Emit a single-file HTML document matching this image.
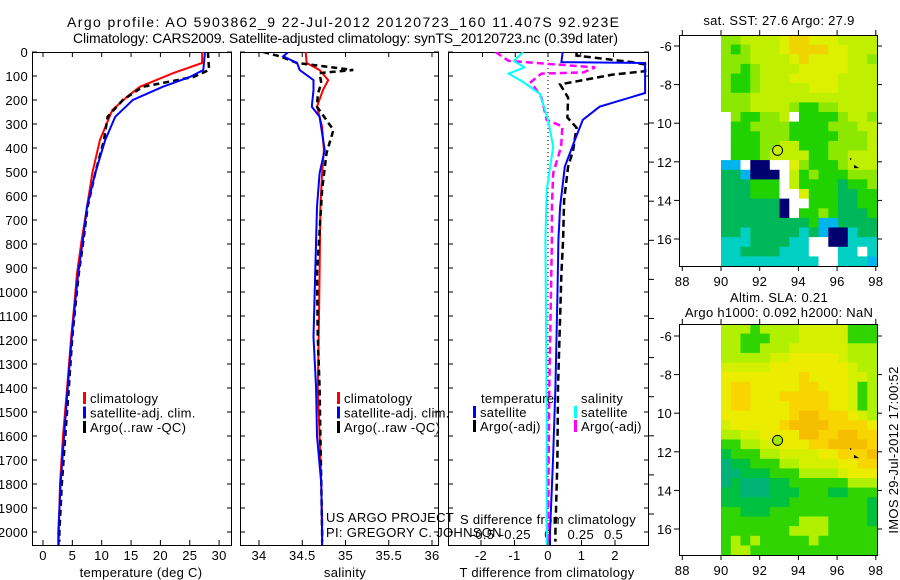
<!DOCTYPE html>
<html><head><meta charset="utf-8">
<style>
html,body{margin:0;padding:0;background:#fff;}
svg{display:block;font-family:"Liberation Sans",sans-serif;}
text{font-size:13px;letter-spacing:0.3px;fill:#000;}
</style></head>
<body>
<svg id="fig" width="900" height="580" viewBox="0 0 900 580" xmlns="http://www.w3.org/2000/svg">
<text x="67" y="27" textLength="552" lengthAdjust="spacing" style="font-size:14px;letter-spacing:0">Argo profile: AO 5903862_9 22-Jul-2012 20120723_160 11.407S 92.923E</text>
<text x="73" y="43" textLength="545" lengthAdjust="spacing" style="font-size:14px;letter-spacing:0">Climatology: CARS2009. Satellite-adjusted climatology: synTS_20120723.nc (0.39d later)</text>
<g id="g"></g>
</svg>
<script>
// ---------- data ----------
const depthTicks=[0,100,200,300,400,500,600,700,800,900,1000,1100,1200,1300,1400,1500,1600,1700,1800,1900,2000];
const tempTicks=[0,5,10,15,20,25,30];
const salTicks=[34,34.5,35,35.5,36];
const tdiffTicks=[-2,-1,0,1,2];
const sdiffTicks=[-0.5,-0.25,0,0.25,0.5];
const sdiffTickLabels=["-0.5","-0.25","0","0.25","0.5"];

const tClimDepth=[0,46,88,145,187,242,367,505,645,783,922,1062,1187,1400,1600,1800,2000,2054];
const tClimVal=[27.1,27.1,22.2,16.5,14.3,11.8,9.7,8.4,7.5,6.6,5.8,5.3,4.8,4.1,3.4,2.9,2.7,2.7];
const tSatDepth=[0,75,104,145,200,270,367,505,645,783,922,1062,1187,1400,1600,1800,2000,2054];
const tSatVal=[27.6,27.3,25,20.4,15.3,12.3,10.6,8.9,7.5,6.8,6.0,5.4,4.9,4.2,3.6,3.0,2.6,2.6];
const tArgoDepth=[0,75,104,145,200,270,367,505,645,783,922,1062,1187,1400,1600,1800,2000,2040];
const tArgoVal=[28.1,28.3,25.6,17,13.6,11,10.4,8.9,7.6,6.9,6.1,5.5,5.0,4.4,3.8,3.2,2.8,2.8];

const sClimDepth=[0,46,75,117,158,228,312,409,505,645,922,1187,1400,1600,1800,2000,2054];
const sClimVal=[34.54,34.55,34.70,34.80,34.74,34.67,34.73,34.75,34.73,34.71,34.70,34.69,34.68,34.70,34.72,34.73,34.73];
const sSatDepth=[0,18,46,75,117,158,228,270,409,505,645,922,1187,1400,1600,1800,2000,2054];
const sSatVal=[34.34,34.28,34.44,34.47,34.63,34.63,34.61,34.70,34.76,34.70,34.67,34.65,34.63,34.66,34.67,34.72,34.73,34.73];
const sArgoDepth=[0,18,46,75,88,130,175,228,325,422,575,922,1187,1400,1600,1800,2000,2040];
const sArgoVal=[34.05,34.24,34.44,35.09,34.70,34.72,34.68,34.67,34.86,34.78,34.73,34.67,34.68,34.70,34.71,34.72,34.73,34.73];

const dtSatDepth=[0,42,46,171,228,283,367,478,645,783,1020,1400,1700,2000,2054];
const dtSatVal=[0.44,0.4,2.9,2.9,1.54,1.04,0.8,0.5,0.36,0.31,0.28,0.22,0.15,0.06,0.06];
const dtArgoDepth=[0,15,42,52,80,94,135,190,273,315,410,478,617,783,922,1400,1700,2000,2040];
const dtArgoVal=[0.85,0.85,2.5,2.9,2.9,1.93,0.36,0.6,0.58,0.85,0.75,0.6,0.48,0.45,0.4,0.3,0.28,0.22,0.22];
const dsSatDepth=[0,37,64,90,125,175,283,395,575,783,1500,2000,2054];
const dsSatVal=[-0.19,-0.26,-0.18,-0.30,-0.19,-0.06,0,0.04,-0.01,-0.02,-0.01,-0.01,-0.01];
const dsArgoDepth=[0,37,64,85,90,125,190,283,310,395,505,645,783,1400,2000,2040];
const dsArgoVal=[-0.4,-0.3,0.36,0.27,-0.05,-0.13,-0.05,-0.01,0.11,0.1,0.04,0.03,0.03,0.01,0.0,0.0];

const map1Rows=["ggyyyyYooYYYyyyy","gGgyyyYooooYYyyy","gggyyyyYoYYYYyyg","ggGgyyyyYYYYYyyy","gGGgyyyYYYYYyyyy","gGGgyyyyyYYYyyyy","gggyyyyyyyyyyyyy","gggyyyygGGggyyyy",".gGGggy.GGGGgyyg",".GGggggGGGGgggyy",".GGGgggGGGGGgggy",".GGGggyyGGGggggy",".GGGgyyyyGGggyyy","bb.NN..YgGGGgyyy","TTbNNN.yGgGGGggg","TTTGGG.yGGGGTGGg","TTTGGG..YGGGTTGG","TTTTTTN..GGGTTGG","TTTTTTN.GGgGTTTG","TTTTTTTTTGbbTTTT","TTcTTTTTcTbNNcTT","cccTTTTcc..NNccc","ccTTTTccc...cc.c","cccccccccc..cccb"];
const map2Rows=["gggGggggyyyyyGGG","ggGGGgggyyyyyGGG","ggGGgggyyyyyyggg","gggggyyYYYYYyggg","yyyyyYYYYYYYYygg","YYYYYYYYoYYYYyyg","YooYYYYYooYYYyGg","YooYYYoooooYYyGg","YooYYYYooooYYyGg","YYYYYYYoOOoooYyg","yYYYYYoOOOOooooY","ggyyYYYYOOooOOoo","GGggyyYYYooOOOOo","DGGGggyyyyYYoooO","TDDGGGggyyyyYYoo","TTDDDGGGggggyYYY","TDTTTDDGGGGGGggg","DDTTTDDDGGGDDGGG","DDDDDDDGGGGGGGGD","GGDDDGGGGGGGGGGD","GGGGGGGGgggGGGGD","GGGGGGGggggGGGGG","GgGgGGGGGgGGGGGG","GggGGGGGGGGGGGGG"];
const lonTicks=[88,90,92,94,96,98];
const latTicks=[-6,-8,-10,-12,-14,-16];
const latLabels=["-6","-8","10","12","14","16"];

// ---------- helpers ----------
const NS="http://www.w3.org/2000/svg";
const G=document.getElementById('g');
function el(tag,attrs,parent){const e=document.createElementNS(NS,tag);for(const k in attrs)e.setAttribute(k,attrs[k]);(parent||G).appendChild(e);return e;}
function txt(s,x,y,anchor,name,extra){const t=el('text',Object.assign({x:x,y:y,'text-anchor':anchor||'start'},extra||{}));t.textContent=s;


return t;}
const yD=d=>52+d*0.24;
const xT=v=>43+v*5.87;
const xS=v=>259+(v-34)*86.5;
const xDT=v=>548+v*33.5;
const xDS=v=>548+v*131;
function line(xs,ys,fx,color,w,dash,name,clip){
  let p=xs.map((v,i)=>(i?'L':'M')+fx(v).toFixed(1)+','+yD(ys[i]).toFixed(1)).join('');
  const a={d:p,fill:'none',stroke:color,'stroke-width':w};
  if(dash)a['stroke-dasharray']=dash;
  if(clip)a['clip-path']='url(#'+clip+')';
  const e=el('path',a);
  
  
}
const defs=el('defs',{});
[['c1',32,231],['c2',240,438],['c3',448,648]].forEach(c=>{const cp=el('clipPath',{id:c[0]},defs);el('rect',{x:c[1],y:52,width:c[2]-c[1],height:493},cp);});

const panels=[[32,231,'temperature-panel'],[240,438,'salinity-panel'],[448,648,'difference-panel']];
panels.forEach(p=>{const r=el('rect',{x:p[0]+0.5,y:52.5,width:p[1]-p[0],height:493,fill:'none',stroke:'#000','stroke-width':1});


depthTicks.forEach(d=>{el('line',{x1:p[0],x2:p[0]+5,y1:yD(d),y2:yD(d),stroke:'#000'});el('line',{x1:p[1]-4,x2:p[1]+1,y1:yD(d),y2:yD(d),stroke:'#000'});});});
depthTicks.forEach(d=>txt(String(d),28,yD(d)+5,'end','depth-tick-label'));
function xticks(ticks,fx,labels,y,name,top){ticks.forEach((v,i)=>{const x=fx(v);el('line',{x1:x,x2:x,y1:545,y2:540,stroke:'#000'});
 if(top)el('line',{x1:x,x2:x,y1:52,y2:57,stroke:'#000'});
 txt(labels?labels[i]:String(v),x,y,'middle',name);});}
xticks(tempTicks,xT,null,560,'temperature-tick-label',true);
xticks(salTicks,xS,null,560,'salinity-tick-label',true);
xticks(tdiffTicks,xDT,null,560,'tdiff-tick-label',false);
sdiffTicks.forEach((v,i)=>{const x=xDS(v);el('line',{x1:x,x2:x,y1:52,y2:57,stroke:'#000'});txt(sdiffTickLabels[i],x,539,'middle','sdiff-tick-label');});
for(let i=0;i<11;i++){el('line',{x1:648,x2:654,y1:123+i*39.1,y2:123+i*39.1,stroke:'#000'});}
txt('temperature (deg C)',141,577,'middle','x-axis-title-temperature');
txt('salinity',345,577,'middle','x-axis-title-salinity');
txt('T difference from climatology',547,577,'middle','x-axis-title-tdiff');
txt('S difference from climatology',548,524,'middle','s-difference-axis-title');
el('line',{x1:548,x2:548,y1:52,y2:545,stroke:'#000','stroke-dasharray':'1,3'});

line(tClimVal,tClimDepth,xT,'#f00',2,null,'temp-climatology-line','c1');
line(tArgoVal,tArgoDepth,xT,'#000',2.5,'6,4','temp-argo-line','c1');
line(tSatVal,tSatDepth,xT,'#00f',2,null,'temp-satellite-line','c1');
line(sClimVal,sClimDepth,xS,'#f00',2,null,'sal-climatology-line','c2');
line(sArgoVal,sArgoDepth,xS,'#000',2.5,'6,4','sal-argo-line','c2');
line(sSatVal,sSatDepth,xS,'#00f',2,null,'sal-satellite-line','c2');
line(dsArgoVal,dsArgoDepth,xDS,'#f0f',2.5,'7,4','sdiff-argo-line','c3');
line(dsSatVal,dsSatDepth,xDS,'#0ff',2,null,'sdiff-satellite-line','c3');
line(dtArgoVal,dtArgoDepth,xDT,'#000',2.5,'7,4','tdiff-argo-line','c3');
line(dtSatVal,dtSatDepth,xDT,'#00f',2,null,'tdiff-satellite-line','c3');

function leg(x,y,color,label,name){el('rect',{x:x,y:y-11,width:3,height:12,fill:color});txt(label,x+7,y,'start',name);}
[[83,'climatology','#f00'],[83,'satellite-adj. clim.','#00f'],[83,'Argo(..raw -QC)','#000']].forEach((l,i)=>leg(l[0],403+i*14.5,l[2],l[1],'legend-entry-temp'));
[[337,'climatology','#f00'],[337,'satellite-adj. clim.','#00f'],[337,'Argo(..raw -QC)','#000']].forEach((l,i)=>leg(l[0],403+i*14.5,l[2],l[1],'legend-entry-sal'));
txt('temperature',481,403,'start','legend-header-temperature');
txt('salinity',581,403,'start','legend-header-salinity');
leg(473,417,'#00f','satellite','legend-entry-tdiff-sat');
leg(473,431,'#000','Argo(-adj)','legend-entry-tdiff-argo');
leg(574,417,'#0ff','satellite','legend-entry-sdiff-sat');
leg(574,431,'#f0f','Argo(-adj)','legend-entry-sdiff-argo');
txt('US ARGO PROJECT',326,522,'start','credit-project');
txt('PI: GREGORY C. JOHNSON',326,537,'start','credit-pi');

const palette1={g:'#8ce800',G:'#20d200',y:'#c0f000',Y:'#dcf000',o:'#f0d400',T:'#00b85a',c:'#00d0c4',b:'#00b4f0',N:'#000070','.':'#fff'};
const palette2={g:'#b0f000',G:'#30d400',y:'#d4f000',Y:'#ecec00',o:'#f8d400',O:'#f6be00',D:'#00c040',T:'#00b478'};
function map(rows,pal,top,name,latTop,mfill){
  const x0=679,x1=877,y1=top+231;
  const xL=lon=>721+(lon-90)*19.35;
  const yL=lat=>latTop+(-6-lat)*19.3;
  const cw=(877-721)/16,ch=(y1-top)/24;
  rows.forEach((r,i)=>{for(let j=0;j<r.length;j++){const c=el('rect',{x:(721+j*cw).toFixed(1),y:(top+i*ch).toFixed(1),width:(cw+0.6).toFixed(1),height:(ch+0.6).toFixed(1),fill:pal[r[j]]});
    
    }});
  const f=el('rect',{x:x0+0.5,y:top+0.5,width:x1-x0,height:y1-top,fill:'none',stroke:'#000'});
  
  
  lonTicks.forEach(l=>{const x=xL(l);el('line',{x1:x,x2:x,y1:top,y2:top-5,stroke:'#000'});el('line',{x1:x,x2:x,y1:y1,y2:y1+5,stroke:'#000'});txt(String(l),x,y1+20,'middle','longitude-tick-label');});
  latTicks.forEach((l,i)=>{const y=yL(l);el('line',{x1:x0,x2:x0-5,y1:y,y2:y,stroke:'#000'});el('line',{x1:x1,x2:x1+5,y1:y,y2:y,stroke:'#000'});txt(latLabels[i],672,y+5,'end','latitude-tick-label');});
  const m=el('circle',{cx:xL(92.923),cy:yL(-11.407),r:5,fill:mfill,stroke:'#000'});
  
  
  el('path',{d:`M${xL(96.7)},${yL(-11.8)}l0,2 M${xL(96.9)},${yL(-12.2)}l3,2 -3,0z`,stroke:'#000',fill:'none'});
}
map(map1Rows,palette1,35,'sst-map',46,'#c8f000');
map(map2Rows,palette2,324,'sla-map',336,'#a0ea00');
txt('sat. SST: 27.6 Argo: 27.9',779,25,'middle','sst-map-title');
txt('Altim. SLA: 0.21',779,302,'middle','sla-map-title');
txt('Argo h1000: 0.092 h2000: NaN',779,317,'middle','sla-map-subtitle');
txt('IMOS 29-Jul-2012 17:00:52',0,0,'middle','timestamp-label',{transform:'translate(898,450) rotate(-90)'});
</script>
</body></html>
